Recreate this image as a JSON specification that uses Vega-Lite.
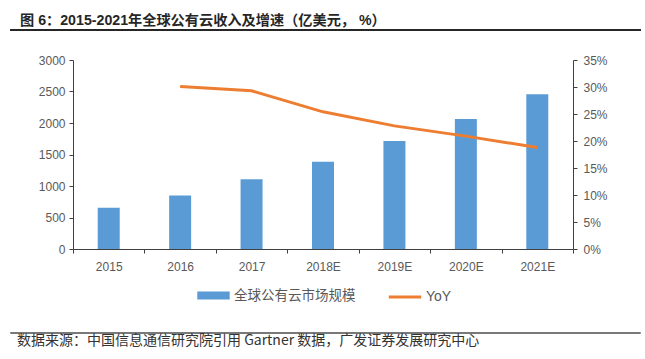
{
  "$schema": "https://vega.github.io/schema/vega-lite/v6.json",
  "padding": {"left": 8, "top": 13, "right": 5, "bottom": 0},
  "background": "white",
  "spacing": 20,
  "config": {"font": "Liberation Sans"},
  "resolve": {"legend": {"color": "independent", "stroke": "independent"}},
  "vconcat": [
    {
      "width": 629,
      "height": 0.001,
      "view": {"stroke": "#262626", "strokeWidth": 2},
      "data": {"values": [{}]},
      "mark": {"type": "point", "opacity": 0},
      "title": {
        "text": "图 6：2015-2021年全球公有云收入及增速（亿美元， %）",
        "anchor": "start",
        "font": "Liberation Sans, Noto Sans CJK SC",
        "fontSize": 14.2,
        "fontWeight": "bold",
        "color": "#262626",
        "offset": -1,
        "dx": 9
      }
    },
    {
      "spacing": 4,
      "resolve": {"legend": {"color": "independent", "stroke": "independent"}},
      "hconcat": [
        {
          "width": 1,
          "height": 1,
          "view": {"stroke": null},
          "data": {"values": [{}]},
          "mark": {"type": "point", "opacity": 0}
        },
        {
          "width": 500,
          "height": 189,
          "view": {"stroke": null},
          "data": {
            "values": [
              {"year": "2015", "revenue": 655, "yoy": null},
              {"year": "2016", "revenue": 851, "yoy": 0.301},
              {"year": "2017", "revenue": 1106, "yoy": 0.293},
              {"year": "2018E", "revenue": 1383, "yoy": 0.254},
              {"year": "2019E", "revenue": 1713, "yoy": 0.228},
              {"year": "2020E", "revenue": 2064, "yoy": 0.209},
              {"year": "2021E", "revenue": 2457, "yoy": 0.188}
            ]
          },
          "encoding": {
            "x": {
              "field": "year",
              "type": "ordinal",
              "sort": null,
              "scale": {"paddingInner": 0, "paddingOuter": 0},
              "axis": {
                "title": null,
                "labelAngle": 0,
                "ticks": true,
                "tickBand": "extent",
                "tickSize": 4,
                "tickColor": "#404040",
                "labelPadding": 8,
                "labelFontSize": 12,
                "labelColor": "#595959",
                "domainColor": "#404040",
                "domainWidth": 1.2
              }
            }
          },
          "layer": [
            {
              "mark": {"type": "bar", "width": 22},
              "encoding": {
                "y": {
                  "field": "revenue",
                  "type": "quantitative",
                  "scale": {"domain": [0, 3000]},
                  "axis": {
                    "title": null,
                    "format": "d",
                    "values": [0, 500, 1000, 1500, 2000, 2500, 3000],
                    "grid": false,
                    "labelFontSize": 12,
                    "labelColor": "#595959",
                    "domainColor": "#404040",
                    "tickColor": "#404040",
                    "tickSize": 4,
                    "labelPadding": 4,
                    "minExtent": 54
                  }
                },
                "color": {
                  "datum": "全球公有云市场规模",
                  "type": "nominal",
                  "scale": {"range": ["#5B9BD5"]},
                  "legend": {
                    "title": null,
                    "orient": "none",
                    "legendX": 119,
                    "legendY": 214,
                    "padding": 5,
                    "direction": "horizontal",
                    "symbolType": "M-1,-0.25H1V0.25H-1Z",
                    "symbolSize": 1050,
                    "symbolStrokeWidth": 0,
                    "labelOffset": 4,
                    "labelFont": "Noto Sans CJK SC",
                    "labelFontSize": 13.5,
                    "labelColor": "#595959"
                  }
                }
              }
            },
            {
              "mark": {"type": "line", "strokeWidth": 3},
              "encoding": {
                "y": {
                  "field": "yoy",
                  "type": "quantitative",
                  "scale": {"domain": [0, 0.35]},
                  "axis": {
                    "title": null,
                    "orient": "right",
                    "format": ".0%",
                    "values": [0, 0.05, 0.1, 0.15, 0.2, 0.25, 0.3, 0.35],
                    "grid": false,
                    "labelFontSize": 12,
                    "labelColor": "#595959",
                    "domainColor": "#404040",
                    "tickColor": "#404040",
                    "tickSize": 4,
                    "labelPadding": 6
                  }
                },
                "stroke": {
                  "datum": "YoY",
                  "type": "nominal",
                  "scale": {"range": ["#ED7D31"]},
                  "legend": {
                    "title": null,
                    "orient": "none",
                    "legendX": 309,
                    "legendY": 214,
                    "padding": 5,
                    "direction": "horizontal",
                    "symbolType": "stroke",
                    "symbolSize": 1050,
                    "symbolStrokeWidth": 3,
                    "labelOffset": 3,
                    "labelFont": "Liberation Sans",
                    "labelFontSize": 14,
                    "labelColor": "#595959"
                  }
                }
              }
            }
          ],
          "resolve": {"scale": {"y": "independent"}}
        }
      ]
    },
    {
      "width": 629,
      "height": 0.001,
      "view": {"stroke": "#4d4d4d", "strokeWidth": 1.5},
      "data": {"values": [{}]},
      "mark": {"type": "point", "opacity": 0},
      "title": {
        "text": "数据来源：中国信息通信研究院引用 Gartner 数据，广发证券发展研究中心",
        "orient": "bottom",
        "anchor": "start",
        "font": "Noto Sans CJK SC",
        "fontSize": 14,
        "fontWeight": "normal",
        "color": "#333333",
        "offset": -2,
        "dx": 6
      }
    }
  ]
}
